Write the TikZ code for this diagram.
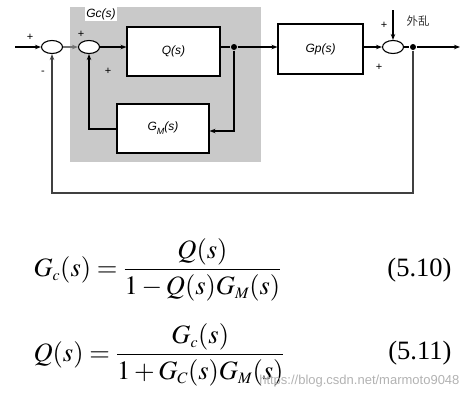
\documentclass[tikz,border=0pt]{standalone}
\usepackage{mathptmx}
\usepackage{fontspec}
\setmainfont{Liberation Serif}
\newfontfamily\lblfont{Liberation Sans}
\newfontfamily\cjkfont{Noto Sans CJK SC}
\usetikzlibrary{shapes.geometric,arrows.meta,calc}
\begin{document}
\begin{tikzpicture}[x=1pt,y=-1pt,
  line width=1.1pt,
  arr/.style={-{Stealth[length=6pt,width=4.5pt]}},
  blk/.style={draw, fill=white, inner sep=0pt, font=\lblfont\itshape\fontsize{12}{14}\selectfont},
  sumnode/.style={draw, ellipse, minimum width=21pt, minimum height=13pt, inner sep=0pt, fill=white},
  dotnode/.style={circle, fill=black, inner sep=0pt, minimum size=6pt},
  sgn/.style={font=\lblfont\fontsize{11}{13}\selectfont, inner sep=0pt},
  eqn/.style={anchor=west, inner sep=0pt, font=\fontsize{26.5}{30}\selectfont}]
\useasboundingbox (0,0) rectangle (470,400);
% shaded controller region
\fill[gray!42] (70,7) rectangle (261,162);
\node[fill=white, inner sep=1.5pt, font=\lblfont\itshape\fontsize{12}{14}\selectfont] (gclbl) at (101,14) {Gc(s)};
% blocks
\node[blk, minimum width=93pt, minimum height=49pt] (Q) at (173.5,51.5) {Q(s)};
\node[blk, minimum width=85pt, minimum height=50pt] (Gp) at (320.5,49) {Gp(s)};
\node[blk, minimum width=92pt, minimum height=49pt] (GM) at (163,128.5) {G\raisebox{-4pt}{\small M}(s)};
% summing junctions
\node[sumnode] (s1) at (52,47) {};
\node[sumnode] (s2) at (89,47) {};
\node[sumnode] (s3) at (393,47) {};
% branch points
\node[dotnode] (d1) at (234,47) {};
\node[dotnode] (d2) at (413,47) {};
% free ends
\coordinate (in) at (15,47);
\coordinate (out) at (460,47);
\coordinate (dist) at (393,10);
\coordinate (fb) at (232,193);
% connectors
\draw[arr] (in) -- (s1.west);
\draw[arr, black!55] (s1.east) -- (s2.west);
\draw[arr] (s2.east) -- (s2.east -| Q.west);
\draw (Q.east |- d1) -- (d1);
\draw[arr] (d1) -- (d1 -| Gp.west);
\draw[arr] (Gp.east |- s3) -- (s3.west);
\draw[arr] (dist) -- (s3.north);
\draw (s3.east) -- (d2);
\draw[arr] (d2) -- (out);
\draw[arr] (d1) |- ($(GM.east)+(0,2.5)$);
\draw[arr] ($(GM.west)+(0,0.5)$) -| (s2.south);
\draw[arr, black!75] (d2) |- (fb) -| (s1.south);
% signs
\node[sgn] (p1) at (30,37) {+};
\node[sgn] (m1) at (43,73) {-};
\node[sgn] (p2) at (81,34) {+};
\node[sgn] (p3) at (108,71) {+};
\node[sgn] (p4) at (384,25) {+};
\node[sgn] (p5) at (379,67) {+};
\node[font=\cjkfont\fontsize{11.5}{13}\selectfont, text=black!80, inner sep=0pt] (wl) at (418,21) {外乱};
% equations
\node[eqn] (e1) at (33,270) {$\displaystyle G_{\scriptscriptstyle c}(s)=\frac{Q(s)}{1-Q(s)G_{\scriptscriptstyle M}(s)}$};
\node[eqn, anchor=east] (n1) at (452,270) {(5.10)};
\node[eqn] (e2) at (33,355) {$\displaystyle Q(s)=\frac{G_{\scriptscriptstyle c}(s)}{1+G_{\scriptscriptstyle C}(s)G_{\scriptscriptstyle M}(s)}$};
\node[eqn, anchor=east] (n2) at (452,353) {(5.11)};
\node[anchor=east, inner sep=0pt, text=black!30, font=\lblfont\fontsize{13}{15}\selectfont] (wm) at (460,381) {https://blog.csdn.net/marmoto9048};
\end{tikzpicture}
\end{document}
